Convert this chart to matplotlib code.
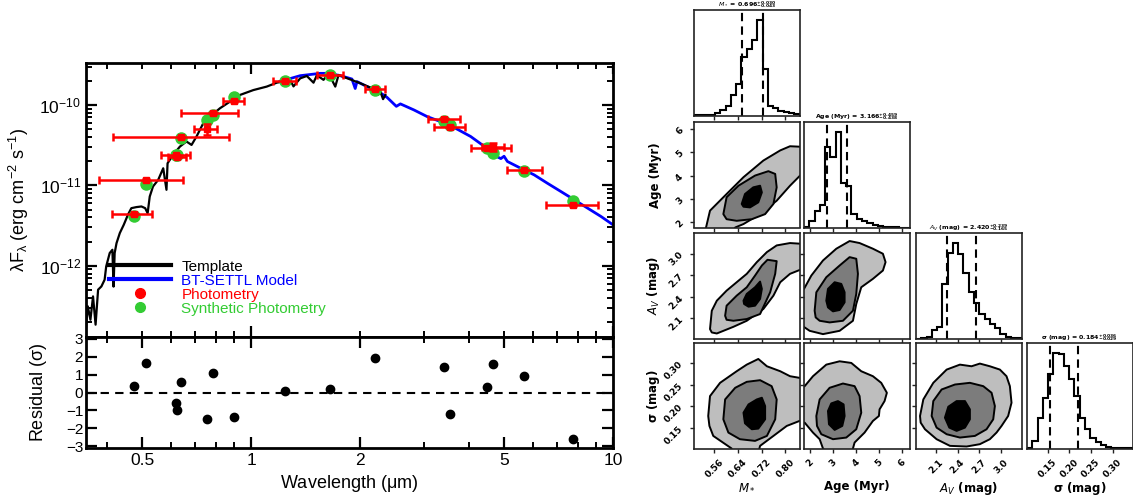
import numpy as np
import matplotlib
matplotlib.use('Agg')
import matplotlib.pyplot as plt
from matplotlib.lines import Line2D
from matplotlib.ticker import NullFormatter

plt.rcParams['font.family'] = ['Liberation Sans', 'DejaVu Sans']
plt.rcParams['mathtext.default'] = 'regular'

# ---------------- SED data ----------------
tmpl_lam = [0.349, 0.354, 0.360, 0.366, 0.372, 0.378, 0.386, 0.394, 0.398, 0.407, 0.414, 0.417,
            0.420, 0.425, 0.434, 0.445, 0.457, 0.467, 0.482, 0.498, 0.510, 0.518, 0.525, 0.536,
            0.554, 0.572, 0.584, 0.588, 0.609, 0.636, 0.663, 0.685, 0.707, 0.738, 0.770, 0.821,
            0.875, 0.932, 1.015, 1.105, 1.178, 1.282, 1.31, 1.367, 1.426, 1.488, 1.520, 1.586,
            1.637, 1.709, 1.745, 1.841, 2.004, 2.160, 2.239, 2.277, 2.316, 2.350]
tmpl_flux = [1.46e-13, 3.13e-13, 2.13e-13, 4.16e-13, 1.85e-13, 5.04e-13, 5.53e-13, 6.70e-13,
             9.82e-13, 1.44e-12, 1.58e-12, 5.5e-13, 1.44e-12, 1.91e-12, 2.55e-12, 3.23e-12,
             4.31e-12, 5.20e-12, 5.36e-12, 5.46e-12, 5.2e-12, 4.5e-12, 7.26e-12, 9.68e-12,
             1.17e-11, 1.63e-11, 8.8e-12, 1.88e-11, 2.39e-11, 3.03e-11, 3.51e-11, 3.18e-11,
             4.05e-11, 5.92e-11, 7.16e-11, 9.10e-11, 1.10e-10, 1.33e-10, 1.53e-10, 1.69e-10,
             1.89e-10, 2.05e-10, 1.7e-10, 2.14e-10, 2.29e-10, 1.89e-10, 2.34e-10, 2.05e-10,
             2.48e-10, 1.69e-10, 2.36e-10, 2.15e-10, 1.86e-10, 1.61e-10, 1.33e-10, 1.46e-10,
             1.18e-10, 1.33e-10]

model_lam = [1.20, 1.367, 1.553, 1.655, 1.803, 1.90, 1.94, 1.962, 2.091, 2.229, 2.376, 2.52,
             2.586, 2.817, 3.066, 3.338, 3.713, 4.043, 4.355, 4.692, 4.80, 4.90, 5.00, 5.108,
             5.562, 6.055, 6.592, 7.178, 7.816, 8.510, 9.264, 10.09]
model_flux = [1.95e-10, 2.31e-10, 2.47e-10, 2.47e-10, 2.25e-10, 2.1e-10, 1.6e-10, 1.95e-10,
              1.69e-10, 1.51e-10, 1.24e-10, 9.6e-11, 1.03e-10, 8.67e-11, 7.16e-11, 6.21e-11,
              4.99e-11, 4.05e-11, 3.18e-11, 2.51e-11, 2.25e-11, 2.15e-11, 2.3e-11, 1.98e-11,
              1.63e-11, 1.35e-11, 1.06e-11, 8.38e-12, 6.61e-12, 5.20e-12, 4.10e-12, 3.14e-12]

phot_lam = [0.475, 0.514, 0.620, 0.626, 0.642, 0.755, 0.783, 0.900, 1.245, 1.655, 2.195,
            3.405, 3.54, 4.48, 4.65, 5.68, 7.76]
phot_lo = [0.413, 0.379, 0.563, 0.59, 0.416, 0.697, 0.642, 0.838, 1.153, 1.52, 2.07,
           3.09, 3.20, 4.04, 4.35, 5.09, 6.52]
phot_hi = [0.533, 0.647, 0.678, 0.66, 0.867, 0.805, 0.923, 0.956, 1.332, 1.795, 2.34,
           3.77, 3.90, 5.22, 5.00, 6.38, 9.10]
phot_flux = [4.39e-12, 1.17e-11, 2.35e-11, 2.25e-11, 4.0e-11, 4.99e-11, 7.88e-11, 1.13e-10,
             2.0e-10, 2.36e-10, 1.58e-10, 6.7e-11, 5.33e-11, 2.95e-11, 3.04e-11, 1.53e-11,
             5.73e-12]
phot_ferr = [1.5e-13, 3e-13, 6e-13, 6e-13, 1e-12, 8e-12, 2e-12, 3e-12, 5e-12, 6e-12, 4e-12,
             2.5e-12, 1.5e-12, 1e-12, 3.5e-12, 4e-13, 2e-13]
synth_flux = [4.2e-12, 1.04e-11, 2.4e-11, 2.4e-11, 3.9e-11, 6.5e-11, 7.44e-11, 1.24e-10,
              2.0e-10, 2.36e-10, 1.55e-10, 6.4e-11, 5.7e-11, 2.9e-11, 2.55e-11, 1.5e-11, 6.3e-12]
resid = [0.37, 1.67, -0.56, -0.96, 0.56, -1.48, 1.11, -1.37, 0.07, 0.17, 1.91, 1.41, -1.19,
         0.28, 1.61, 0.91, -2.57]

# ---------------- corner data ----------------
par_lims = [(0.492, 0.848), (1.75, 6.32), (1.82, 3.29), (0.102, 0.346)]
par_ticks = [[0.56, 0.64, 0.72, 0.80], [2, 3, 4, 5, 6], [2.1, 2.4, 2.7, 3.0], [0.15, 0.20, 0.25, 0.30]]
par_ticklabels = [['0.56', '0.64', '0.72', '0.80'], ['2', '3', '4', '5', '6'],
                  ['2.1', '2.4', '2.7', '3.0'], ['0.15', '0.20', '0.25', '0.30']]
par_labels = [r'$\mathit{M_*}$', 'Age (Myr)', r'$\mathit{A_V}$ (mag)', r'$\sigma$ (mag)']
par_med = [0.696, 3.166, 2.420, 0.184]
par_lo = [0.043, 0.438, 0.165, 0.029]
par_hi = [0.030, 0.459, 0.239, 0.036]
par_titles = [r'$\mathit{M_*}$ = 0.696$^{+0.030}_{-0.043}$',
              r'Age (Myr) = 3.166$^{+0.459}_{-0.438}$',
              r'$\mathit{A_V}$ (mag) = 2.420$^{+0.239}_{-0.165}$',
              r'$\sigma$ (mag) = 0.184$^{+0.036}_{-0.029}$']

hist_mstar = [1, 1, 2, 3, 7, 18, 30, 61, 96, 176, 200, 228, 288, 140, 28, 22, 15, 11, 7, 5]
hist_age = [2, 20, 50, 68, 240, 212, 287, 132, 125, 40, 25, 18, 12, 8, 4, 2, 1, 1, 0, 0]
hist_av = [0, 1, 5, 25, 35, 165, 256, 288, 253, 198, 141, 108, 73, 58, 43, 31, 15, 5, 2, 1]
hist_sig = [2, 23, 93, 153, 223, 288, 283, 248, 208, 158, 93, 60, 33, 20, 10, 5, 3, 2, 1, 1]

# contour outlines (outer, middle, inner)
age_m_outer_x = [0.528, 0.546, 0.591, 0.659, 0.726, 0.783, 0.816, 0.850, 0.870, 0.870, 0.850, 0.816, 0.771, 0.715, 0.659, 0.631, 0.620]
age_m_outer_y = [1.50, 2.48, 3.06, 3.93, 4.65, 5.09, 5.27, 5.25, 5.20, 3.90, 4.00, 3.56, 2.91, 2.33, 1.90, 1.75, 1.50]
age_m_mid_x = [0.591, 0.602, 0.642, 0.698, 0.743, 0.766, 0.771, 0.760, 0.732, 0.687, 0.636, 0.602]
age_m_mid_y = [2.33, 3.06, 3.56, 4.00, 4.19, 4.07, 3.49, 2.77, 2.33, 2.11, 2.04, 2.11]
age_m_in_x = [0.653, 0.664, 0.692, 0.715, 0.721, 0.709, 0.681, 0.659]
age_m_in_y = [2.77, 3.20, 3.49, 3.56, 3.27, 2.84, 2.62, 2.65]

av_m_outer_x = [0.546, 0.552, 0.569, 0.602, 0.636, 0.670, 0.704, 0.738, 0.771, 0.816, 0.850, 0.875, 0.875, 0.850, 0.816, 0.783, 0.760, 0.726, 0.670, 0.625, 0.569, 0.552]
av_m_outer_y = [1.951, 2.207, 2.347, 2.487, 2.604, 2.721, 2.884, 3.024, 3.117, 3.150, 3.141, 3.14, 2.77, 2.777, 2.721, 2.604, 2.417, 2.231, 2.067, 1.983, 1.890, 1.904]
av_m_mid_x = [0.597, 0.602, 0.636, 0.670, 0.698, 0.721, 0.740, 0.771, 0.766, 0.749, 0.715, 0.670, 0.625, 0.602]
av_m_mid_y = [2.137, 2.277, 2.417, 2.534, 2.697, 2.837, 2.917, 2.898, 2.721, 2.464, 2.161, 2.091, 2.067, 2.081]
av_m_in_x = [0.659, 0.670, 0.698, 0.715, 0.721, 0.715, 0.698, 0.676, 0.661]
av_m_in_y = [2.347, 2.441, 2.534, 2.613, 2.511, 2.371, 2.277, 2.263, 2.301]

av_age_outer_x = [1.40, 1.75, 2.067, 2.572, 3.149, 3.726, 4.158, 4.735, 5.168, 5.283, 5.168, 4.735, 4.230, 4.014, 3.870, 3.293, 2.572, 1.995, 1.779, 1.40]
av_age_outer_y = [2.58, 2.511, 2.697, 2.907, 3.071, 3.178, 3.150, 3.071, 3.001, 2.884, 2.767, 2.651, 2.534, 2.301, 2.067, 1.927, 1.881, 1.927, 1.974, 2.06]
av_age_mid_x = [2.211, 2.284, 2.716, 3.293, 3.726, 4.014, 4.086, 4.014, 3.870, 3.437, 2.860, 2.428, 2.255]
av_age_mid_y = [2.207, 2.464, 2.674, 2.837, 2.954, 2.931, 2.721, 2.441, 2.207, 2.067, 2.044, 2.067, 2.114]
av_age_in_x = [2.716, 2.788, 3.077, 3.365, 3.509, 3.509, 3.293, 3.004, 2.788]
av_age_in_y = [2.347, 2.511, 2.604, 2.581, 2.464, 2.324, 2.217, 2.198, 2.254]

sig_m_outer_x = [0.540, 0.546, 0.580, 0.636, 0.670, 0.709, 0.738, 0.783, 0.816, 0.848, 0.873, 0.873, 0.848, 0.805, 0.760, 0.715, 0.709, 0.612, 0.619, 0.557, 0.544]
sig_m_outer_y = [0.1772, 0.2232, 0.2539, 0.2807, 0.2960, 0.3091, 0.2922, 0.2807, 0.2692, 0.2654, 0.2654, 0.1733, 0.1657, 0.1542, 0.1311, 0.1081, 0.093, 0.093, 0.102, 0.1311, 0.1542]
sig_m_mid_x = [0.591, 0.597, 0.631, 0.670, 0.715, 0.754, 0.771, 0.766, 0.738, 0.698, 0.647, 0.608]
sig_m_mid_y = [0.1695, 0.2155, 0.2424, 0.2562, 0.2600, 0.2462, 0.2155, 0.1695, 0.1311, 0.1196, 0.1235, 0.1388]
sig_m_in_x = [0.659, 0.676, 0.704, 0.721, 0.732, 0.732, 0.709, 0.687, 0.664]
sig_m_in_y = [0.1848, 0.2040, 0.2155, 0.2194, 0.2002, 0.1695, 0.1480, 0.1465, 0.1603]

sig_age_outer_x = [1.418, 1.779, 2.139, 2.716, 3.293, 3.798, 4.230, 4.735, 5.095, 5.340, 5.240, 5.023, 4.995, 4.735, 4.374, 3.942, 3.870, 3.84, 2.716, 2.572, 2.428, 2.139, 1.779, 1.418]
sig_age_outer_y = [0.238, 0.2462, 0.2692, 0.2960, 0.3037, 0.2999, 0.2807, 0.2692, 0.2539, 0.2309, 0.2117, 0.1925, 0.1772, 0.1657, 0.1388, 0.1158, 0.102, 0.093, 0.093, 0.102, 0.1235, 0.1388, 0.1618, 0.165]
sig_age_mid_x = [2.284, 2.428, 2.860, 3.437, 3.942, 4.158, 4.230, 4.014, 3.581, 3.004, 2.500, 2.312]
sig_age_mid_y = [0.1772, 0.2155, 0.2424, 0.2523, 0.2462, 0.2232, 0.1848, 0.1465, 0.1273, 0.1235, 0.1350, 0.1542]
sig_age_in_x = [2.788, 2.932, 3.221, 3.466, 3.509, 3.408, 3.077, 2.832]
sig_age_in_y = [0.1887, 0.2063, 0.2117, 0.2040, 0.1772, 0.1542, 0.1450, 0.1580]

sig_av_outer_x = [1.876, 1.922, 2.061, 2.247, 2.432, 2.594, 2.710, 2.849, 2.989, 3.081, 3.128, 3.151, 3.104, 3.012, 2.942, 2.849, 2.710, 2.525, 2.293, 2.107, 1.945, 1.885]
sig_av_outer_y = [0.1772, 0.2155, 0.2539, 0.2845, 0.2960, 0.2922, 0.2984, 0.2922, 0.2845, 0.2692, 0.2462, 0.2078, 0.1772, 0.1542, 0.1388, 0.1235, 0.1120, 0.1066, 0.1081, 0.1235, 0.1465, 0.1618]
sig_av_mid_x = [2.038, 2.061, 2.177, 2.363, 2.571, 2.757, 2.873, 2.919, 2.896, 2.803, 2.641, 2.432, 2.247, 2.107]
sig_av_mid_y = [0.1772, 0.2117, 0.2385, 0.2500, 0.2539, 0.2462, 0.2309, 0.2002, 0.1695, 0.1465, 0.1311, 0.1273, 0.1350, 0.1503]
sig_av_in_x = [2.223, 2.270, 2.386, 2.502, 2.571, 2.571, 2.502, 2.386, 2.284]
sig_av_in_y = [0.1733, 0.1986, 0.2117, 0.2117, 0.1925, 0.1695, 0.1503, 0.1427, 0.1503]

W, H = 1133, 501
fig = plt.figure(figsize=(W / 100, H / 100), dpi=100)


def px_axes(left, top, w, h):
    return fig.add_axes([left / W, 1 - (top + h) / H, w / W, h / H])


# ---------------- SED panel ----------------
ax = px_axes(86, 62.7, 527, 274.3)
axr = px_axes(86, 337, 527, 111)

ax.plot(model_lam, model_flux, color='#0000ff', lw=2, zorder=2)
ax.plot(tmpl_lam, tmpl_flux, color='black', lw=1.6, zorder=3)
ax.plot(phot_lam, synth_flux, 'o', color='#33cc33', ms=9, mec='none', zorder=4)
xerr = [np.array(phot_lam) - np.array(phot_lo), np.array(phot_hi) - np.array(phot_lam)]
ax.errorbar(phot_lam, phot_flux, xerr=xerr, yerr=phot_ferr, fmt='s', color='#ff0000',
            ms=5, elinewidth=1.8, capsize=3, capthick=1.8, zorder=5)

for a in (ax, axr):
    a.set_xscale('log')
    a.set_xlim(0.35, 10)
    a.tick_params(which='both', direction='in', top=True, right=True, labelsize=12.5)
    a.tick_params(which='major', length=8, width=1.6)
    a.tick_params(which='minor', length=4, width=1.4)
    for s in a.spines.values():
        s.set_linewidth(2)

ax.set_yscale('log')
ax.set_ylim(1.3e-13, 3.35e-10)
ax.tick_params(labelbottom=False)
ax.set_ylabel(r'$\lambda$F$_\lambda$ (erg cm$^{-2}$ s$^{-1}$)', fontsize=13)
ax.yaxis.set_label_coords(-0.105, 0.5)

handles = [Line2D([], [], color='black', lw=3),
           Line2D([], [], color='#0000ff', lw=3),
           Line2D([], [], ls='none', marker='o', color='#ff0000', ms=7),
           Line2D([], [], ls='none', marker='o', color='#33cc33', ms=7)]
leg = ax.legend(handles, ['Template', 'BT-SETTL Model', 'Photometry', 'Synthetic Photometry'],
                loc='upper left', bbox_to_anchor=(0.03, 0.31), frameon=False, fontsize=11,
                handlelength=4.0, handletextpad=0.7, labelspacing=0.0, borderpad=0,
                labelcolor=['black', '#0000ff', '#ff0000', '#33cc33'])

axr.plot(phot_lam, resid, 'o', color='black', ms=6)
axr.axhline(0, color='black', ls=(0, (4, 3)), lw=1.5)
axr.set_ylim(-3.1, 3.1)
axr.set_yticks([-3, -2, -1, 0, 1, 2, 3])
axr.set_xticks([0.5, 1, 2, 5, 10])
axr.set_xticklabels(['0.5', '1', '2', '5', '10'])
axr.xaxis.set_minor_formatter(NullFormatter())
axr.tick_params(axis='y', labelsize=11, pad=2)
axr.set_ylabel(r'Residual ($\sigma$)', fontsize=13)
axr.yaxis.set_label_coords(-0.07, 0.5)
axr.set_xlabel(r'Wavelength ($\mu$m)', fontsize=13)

# ---------------- corner plot ----------------
col_left = [694, 804, 916, 1027]
row_top = [10, 122, 233, 343]
size = 105.5
hists = [hist_mstar, hist_age, hist_av, hist_sig]
contours = {
    (1, 0): [(age_m_outer_x, age_m_outer_y), (age_m_mid_x, age_m_mid_y), (age_m_in_x, age_m_in_y)],
    (2, 0): [(av_m_outer_x, av_m_outer_y), (av_m_mid_x, av_m_mid_y), (av_m_in_x, av_m_in_y)],
    (2, 1): [(av_age_outer_x, av_age_outer_y), (av_age_mid_x, av_age_mid_y), (av_age_in_x, av_age_in_y)],
    (3, 0): [(sig_m_outer_x, sig_m_outer_y), (sig_m_mid_x, sig_m_mid_y), (sig_m_in_x, sig_m_in_y)],
    (3, 1): [(sig_age_outer_x, sig_age_outer_y), (sig_age_mid_x, sig_age_mid_y), (sig_age_in_x, sig_age_in_y)],
    (3, 2): [(sig_av_outer_x, sig_av_outer_y), (sig_av_mid_x, sig_av_mid_y), (sig_av_in_x, sig_av_in_y)],
}
fills = ['#bebebe', '#7c7c7c', '#000000']
tick_font = dict(fontsize=6.5, fontweight='bold', family='DejaVu Sans', rotation=45)
label_font = dict(fontsize=8.5, fontweight='bold', family='DejaVu Sans')

for i in range(4):
    for j in range(i + 1):
        c = px_axes(col_left[j], row_top[i], size, size)
        for s in c.spines.values():
            s.set_linewidth(1.2)
            s.set_color('#222222')
        c.tick_params(length=3, width=1, color='#222222')
        if i == j:
            edges = np.linspace(par_lims[i][0], par_lims[i][1], len(hists[i]) + 1)
            c.stairs(hists[i], edges, color='black', lw=1.5)
            for q in (par_med[i] - par_lo[i], par_med[i] + par_hi[i]):
                c.axvline(q, color='black', ls=(0, (4, 2.5)), lw=1.5)
            c.set_ylim(0, 1.1 * max(hists[i]))
            c.set_yticks([])
            c.set_title(par_titles[i], fontsize=4.5, fontweight='bold', family='DejaVu Sans', pad=1)
        else:
            for (px, py), fc in zip(contours[(i, j)], fills):
                c.fill(px, py, facecolor=fc, edgecolor='black', lw=1.4, joinstyle='round')
            c.set_ylim(par_lims[i])
            c.set_yticks(par_ticks[i])
            if j == 0:
                c.set_yticklabels(par_ticklabels[i], **tick_font)
                c.set_ylabel(par_labels[i], **label_font)
                c.yaxis.set_label_coords(-0.3, 0.5)
            else:
                c.set_yticklabels([])
        c.set_xlim(par_lims[j])
        c.set_xticks(par_ticks[j])
        if i == 3:
            c.set_xticklabels(par_ticklabels[j], **tick_font)
            c.set_xlabel(par_labels[j], **label_font)
            c.xaxis.set_label_coords(0.5, -0.3)
        else:
            c.set_xticklabels([])

fig.savefig('out.png', dpi=100)
